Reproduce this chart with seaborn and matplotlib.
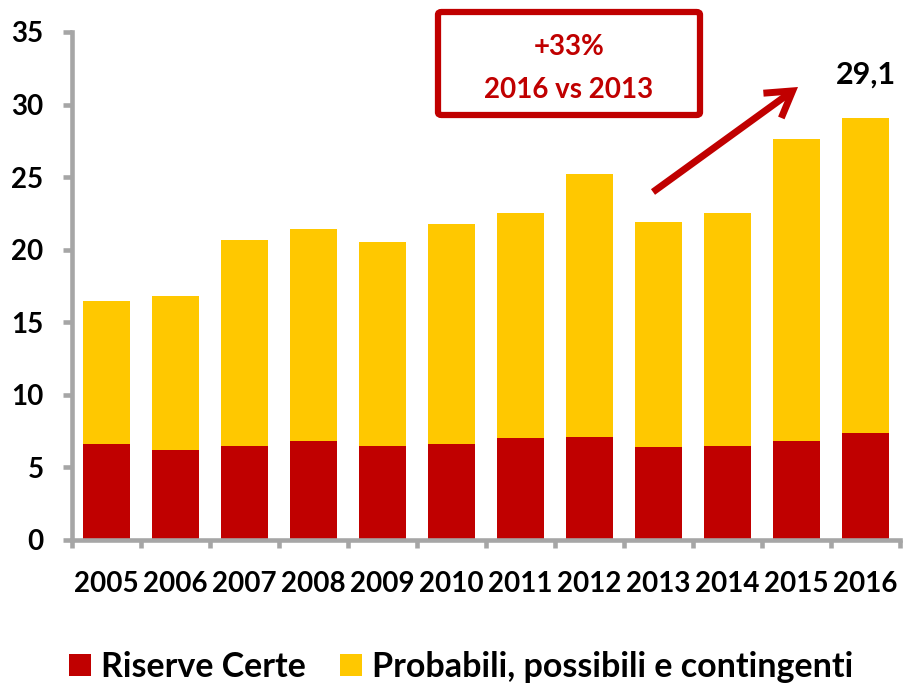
import matplotlib
matplotlib.use("Agg")
import matplotlib.pyplot as plt
from matplotlib.patches import Patch, FancyBboxPatch
from matplotlib.ticker import FixedLocator
import seaborn as sns
import pandas as pd

years = ["2005", "2006", "2007", "2008", "2009", "2010",
         "2011", "2012", "2013", "2014", "2015", "2016"]
riserve_certe = [6.6, 6.2, 6.5, 6.8, 6.5, 6.6, 7.0, 7.1, 6.4, 6.5, 6.8, 7.4]
probabili = [9.9, 10.6, 14.2, 14.6, 14.0, 15.2, 15.5, 18.1, 15.5, 16.0, 20.8, 21.7]
yticks = [0, 5, 10, 15, 20, 25, 30, 35]
last_label = "29,1"
box_lines = ["+33%", "2016 vs 2013"]
legend_labels = ["Riserve Certe", "Probabili, possibili e contingenti"]

RED = "#C00000"
YELLOW = "#FFC800"
GREY = "#A6A6A6"

sns.set_theme(style="white")
plt.rcParams["font.family"] = ["Lato", "DejaVu Sans"]
plt.rcParams["font.weight"] = "bold"
plt.rcParams["text.color"] = "black"

df = pd.DataFrame({"year": years, "certe": riserve_certe, "prob": probabili})
df["total"] = df["certe"] + df["prob"]

W, H = 904, 687
fig = plt.figure(figsize=(W / 100, H / 100), dpi=100)
ax = fig.add_axes([72 / W, (H - 540) / H, (900 - 72) / W, (540 - 32) / H])

sns.barplot(data=df, x="year", y="total", color=YELLOW, saturation=1,
            width=0.667, ax=ax, linewidth=0)
sns.barplot(data=df, x="year", y="certe", color=RED, saturation=1,
            width=0.667, ax=ax, linewidth=0)

ax.set_xlim(-0.5, len(years) - 0.5)
ax.set_ylim(0, 35)
ax.set_xlabel("")
ax.set_ylabel("")
ax.set_yticks(yticks)
ax.set_yticklabels([str(v) for v in yticks], fontsize=20, fontweight="bold", color="black")
ax.set_xticks(range(len(years)))
ax.set_xticklabels(years, fontsize=20, fontweight="bold", color="black")
ax.xaxis.set_minor_locator(FixedLocator([i - 0.5 for i in range(len(years) + 1)]))

for s in ["top", "right"]:
    ax.spines[s].set_visible(False)
for s in ["left", "bottom"]:
    ax.spines[s].set_color(GREY)
    ax.spines[s].set_linewidth(3.3)

ax.tick_params(axis="y", which="major", length=6.5, width=3.3, color=GREY,
               labelcolor="black", direction="out", pad=14, left=True)
ax.tick_params(axis="x", which="major", length=0, pad=22, labelcolor="black")
ax.tick_params(axis="x", which="minor", length=5.5, width=3.3, color=GREY,
               direction="out", bottom=True)
ax.grid(False)

# total label on last bar
last_total = df["total"].iloc[-1]
ax.text(len(years) - 1, last_total + 2.0, last_label, ha="center", va="bottom",
        fontsize=22, fontweight="bold", color="black")

# growth box
box = FancyBboxPatch((438 / W, 1 - 115 / H), (700 - 438) / W, (115 - 12) / H,
                     boxstyle="round,pad=0,rounding_size=0.004",
                     transform=fig.transFigure, fill=False, edgecolor=RED,
                     linewidth=4.5, zorder=5)
fig.patches.append(box)
fig.text(569 / W, 1 - 47 / H, box_lines[0], ha="center", va="center",
         fontsize=20, fontweight="bold", color=RED)
fig.text(569 / W, 1 - 90 / H, box_lines[1], ha="center", va="center",
         fontsize=20, fontweight="bold", color=RED)

# arrow
ax.annotate("", xy=(798, H - 87), xytext=(653, H - 192),
            xycoords="figure pixels", textcoords="figure pixels",
            arrowprops=dict(arrowstyle="->,head_length=0.9,head_width=0.55",
                            lw=5, color=RED, mutation_scale=20,
                            shrinkA=0, shrinkB=0, joinstyle="miter",
                            capstyle="butt"))

handles = [Patch(facecolor=RED, edgecolor="none"),
           Patch(facecolor=YELLOW, edgecolor="none")]
leg = fig.legend(handles, legend_labels, loc="center",
                 bbox_to_anchor=(461 / W, 1 - 667 / H),
                 ncol=2, frameon=False, prop={"weight": "bold", "size": 24.5},
                 handlelength=0.65, handleheight=0.65, handletextpad=0.3,
                 columnspacing=1.0, borderaxespad=0)
for t in leg.get_texts():
    t.set_color("black")

fig.savefig("out.png", dpi=100)
